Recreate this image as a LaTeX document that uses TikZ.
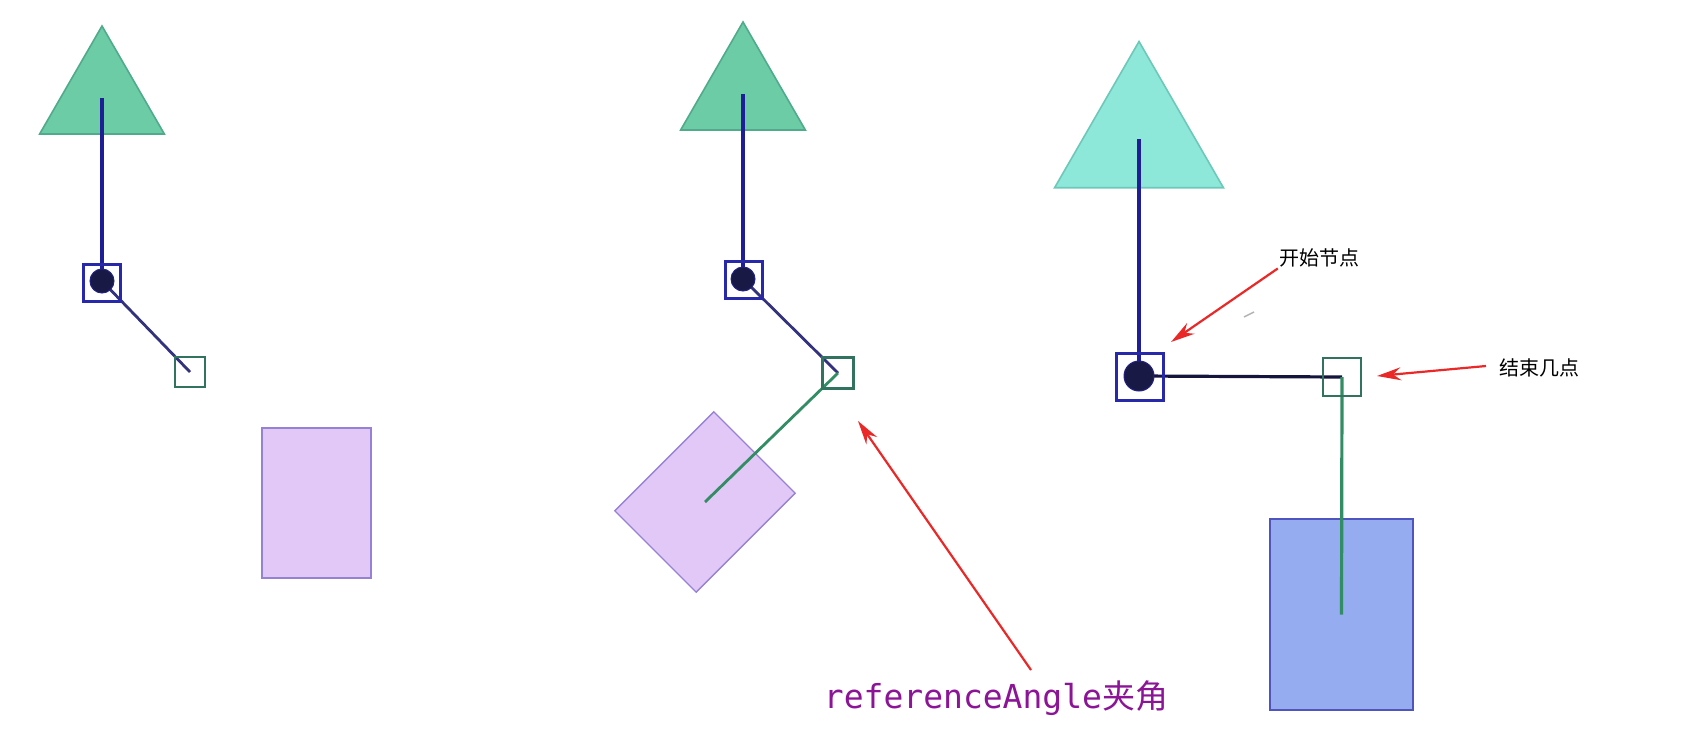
\documentclass[tikz,border=0pt]{standalone}
\usepackage{fontspec}
\setmonofont{DejaVu Sans Mono}
\newfontfamily\cjk{Noto Sans CJK SC}
\usetikzlibrary{shapes.geometric,arrows.meta}
\definecolor{trigreen}{RGB}{108,204,166}
\definecolor{triedge}{RGB}{80,170,140}
\definecolor{tricyan}{RGB}{142,232,218}
\definecolor{tricyanedge}{RGB}{110,200,185}
\definecolor{navy}{RGB}{30,30,150}
\definecolor{bonenavy}{RGB}{50,50,125}
\definecolor{bonedark}{RGB}{20,20,60}
\definecolor{boxblue}{RGB}{40,40,170}
\definecolor{dotnavy}{RGB}{25,25,70}
\definecolor{endgreen}{RGB}{50,115,95}
\definecolor{linegreen}{RGB}{50,140,100}
\definecolor{lav}{RGB}{226,200,246}
\definecolor{lavedge}{RGB}{150,130,210}
\definecolor{bluefill}{RGB}{150,172,240}
\definecolor{blueedge}{RGB}{80,85,190}
\definecolor{arrred}{RGB}{235,40,40}
\definecolor{labpurple}{RGB}{140,20,150}
\pgfdeclarelayer{bg}
\pgfdeclarelayer{mid}
\pgfsetlayers{bg,mid,main}
\begin{document}
\begin{tikzpicture}[x=1pt,y=-1pt,
  tri/.style={regular polygon, regular polygon sides=3, inner sep=0pt, draw=triedge, fill=trigreen, line width=1.6pt},
  tricy/.style={tri, draw=tricyanedge, fill=tricyan},
  startbox/.style={draw=boxblue, line width=2.8pt, inner sep=0pt},
  jointdot/.style={circle, fill=dotnavy, draw=boxblue!60!dotnavy, line width=1pt, inner sep=0pt},
  endbox/.style={draw=endgreen, line width=2.2pt, inner sep=0pt},
  lavbody/.style={draw=lavedge, fill=lav, line width=1.4pt, inner sep=0pt},
  bluebody/.style={draw=blueedge, fill=bluefill, line width=1.8pt, inner sep=0pt},
  bone/.style={draw=navy, line width=3.4pt},
  arm/.style={draw=bonenavy, line width=2.8pt},
  greenarm/.style={draw=linegreen, line width=2.8pt},
  redarrow/.style={draw=arrred, line width=2.2pt, -{Stealth[length=24pt,width=13pt]}},
  cjklab/.style={font=\cjk\fontsize{20}{24}\selectfont, inner sep=1pt}
]
\useasboundingbox (0,0) rectangle (1688,739);

\begin{pgfonlayer}{bg}
% panel 1
\node[tri, minimum size=144pt] (tri1) at (102,98) {};
\node[lavbody, minimum width=109pt, minimum height=150pt] (body1) at (316.5,503) {};
% panel 2
\node[tri, minimum size=144pt] (tri2) at (743,94) {};
\node[lavbody, minimum width=115pt, minimum height=140pt, rotate=-45] (body2) at (705,502) {};
% panel 3
\node[tricy, minimum size=195pt] (tri3) at (1139,139) {};
\node[bluebody, minimum width=143pt, minimum height=191pt] (body3) at (1341.5,614.5) {};
\end{pgfonlayer}

% boxes and joints
\node[endbox, minimum size=30pt] (end1) at (190,372) {};
\node[startbox, minimum size=37pt] (start1) at (102,283) {};
\node[jointdot, minimum size=24pt] (dot1) at (102,281) {};

\node[endbox, minimum size=31pt] (end2) at (838,373) {};
\node[startbox, minimum size=37pt] (start2) at (744,280) {};
\node[jointdot, minimum size=24pt] (dot2) at (743,279) {};

\node[endbox, minimum size=38pt] (end3) at (1342,377) {};
\node[startbox, minimum size=47pt] (start3) at (1140,377) {};
\node[jointdot, minimum size=30pt] (dot3) at (1139,376) {};

\begin{pgfonlayer}{mid}
\draw[bone] (tri1.center) -- (dot1.center);
\draw[arm] (dot1.center) -- (end1.center);

\draw[bone] (tri2.center) -- (dot2.center);
\draw[arm] (dot2.center) -- (end2.center);
\draw[greenarm] (end2.center) -- (body2.center);

\draw[bone] (tri3.center) -- (dot3.center);
\draw[arm, draw=bonedark, line width=3.2pt] (dot3.center) -- (end3.center);
\draw[greenarm, line width=3.2pt] (end3.center) -- (body3.center);
\end{pgfonlayer}

% stray mark
\draw[gray!60, line width=1.5pt] (1244,317) -- (1254,312);

% labels
\node[cjklab] (lab1) at (1319,258) {开始节点};
\node[cjklab] (lab2) at (1539,368) {结束几点};
\node[text=labpurple, font=\fontsize{33}{40}\selectfont, inner sep=0pt] (lab3) at (996,698) {\ttfamily referenceAngle{\cjk 夹角}};

\coordinate (tip1) at (1171,342);
\coordinate (tip2) at (1377,376);
\coordinate (tail2) at (1486,366);
\coordinate (tip3) at (858,421);
\coordinate (tail3) at (1031,670);

\draw[redarrow] (lab1.south west) -- (tip1);
\draw[redarrow] (tail2) -- (tip2);
\draw[redarrow] (tail3) -- (tip3);
\end{tikzpicture}
\end{document}
